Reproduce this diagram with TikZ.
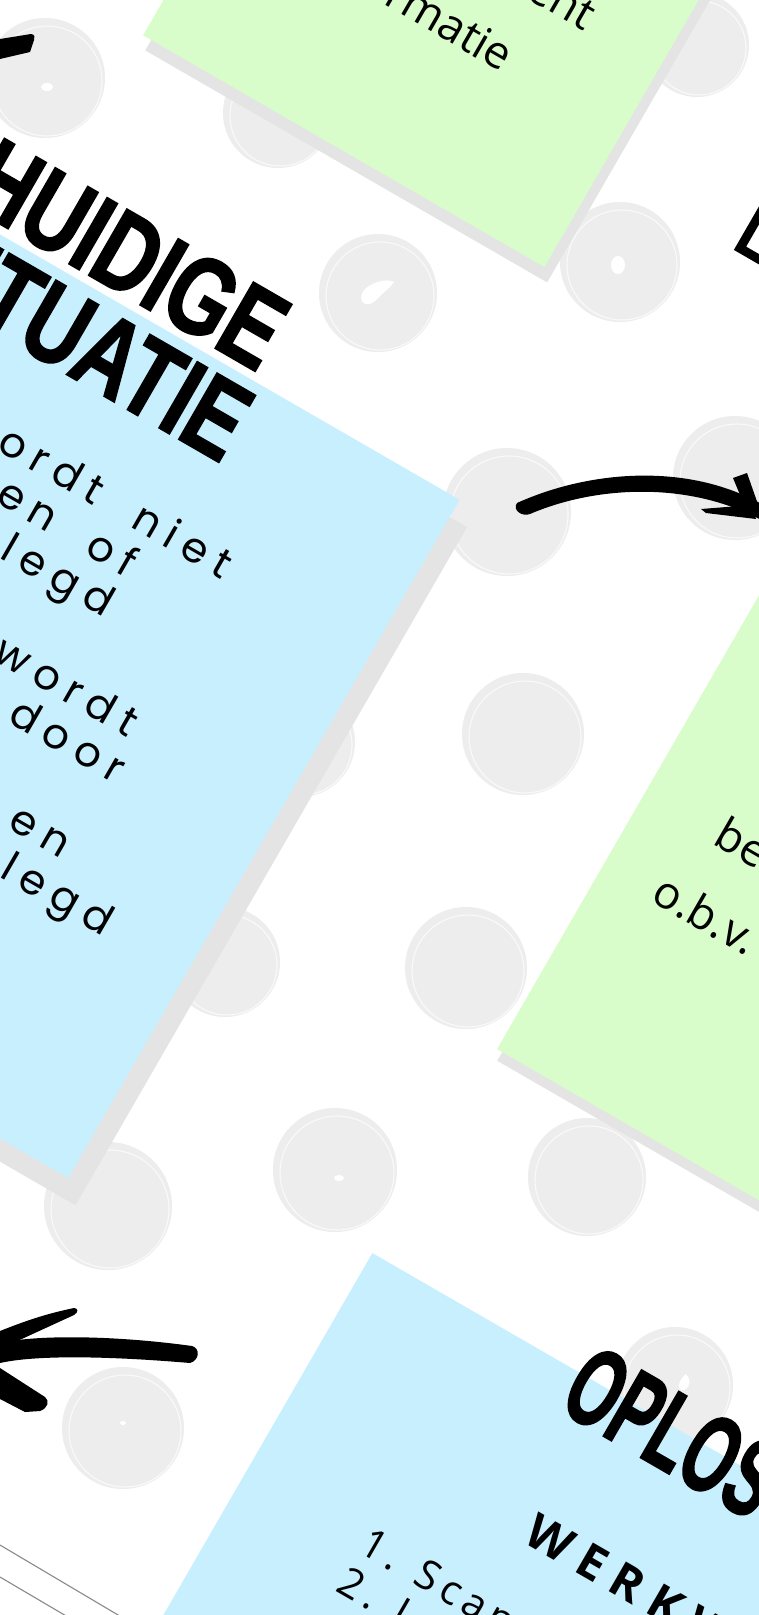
\documentclass[tikz,border=0pt]{standalone}
\usepackage{fontspec}
\newfontfamily\titlefont[FakeStretch=0.74,BoldFeatures={FakeBold=1.5}]{Liberation Sans}
\newfontfamily\oplosfont[FakeStretch=0.58,BoldFeatures={FakeBold=1.5}]{Liberation Sans}
\newfontfamily\bodyfont[LetterSpace=22,WordSpace=2]{Poppins}
\newfontfamily\greenfont{Open Sans}
\newfontfamily\listfont[LetterSpace=15]{Open Sans}
\newfontfamily\subfont[LetterSpace=25]{Open Sans}
\definecolor{noteblue}{HTML}{C8EFFE}
\definecolor{notegreen}{HTML}{D8FDCA}
\definecolor{shadowgray}{HTML}{E4E4E4}
\definecolor{blobgray}{HTML}{EDEDED}
\definecolor{linegray}{HTML}{8A8A8A}
\tikzset{
  blob/.style={fill=blobgray},
  blobring/.style={draw=white,line width=1.1pt,opacity=0.7},
  blobdot/.style={fill=white},
  titletext/.style={rotate=-30,inner sep=0pt,font=\titlefont\bfseries\fontsize{111}{111}\selectfont},
  oplostext/.style={rotate=-30,inner sep=0pt,font=\oplosfont\bfseries\fontsize{111}{111}\selectfont},
  bluetext/.style={rotate=-30,inner sep=0pt,font=\bodyfont\fontsize{42}{42}\selectfont},
  greentext/.style={rotate=-30,inner sep=0pt,font=\greenfont\fontsize{45}{45}\selectfont},
  listtext/.style={rotate=-30,inner sep=0pt,font=\listfont\fontsize{41}{41}\selectfont},
  subtext/.style={rotate=-30,inner sep=0pt,font=\subfont\bfseries\fontsize{48}{48}\selectfont},
  brush/.style={fill=black},
}
\begin{document}
\begin{tikzpicture}[x=1pt,y=-1pt]
\useasboundingbox (0,0) rectangle (759,1615);
\clip (0,0) rectangle (759,1615);
\fill[white] (0,0) rectangle (759,1615);
% background blobs
\foreach \bx/\by/\br in {45/78/60, 278/113/55, 697/45/52, 378/293/59, 620/262/60,
  507/512/64, 735/478/62, 523/734/61, 300/742/55, 466/968/61, 225/962/55,
  108/1206/64, 335/1170/62, 587/1177/59, 123/1428/61, 675/1385/58}{
  \fill[blob] (\bx,\by) circle[radius=\br];
  \draw[blobring] (\bx+2,\by+3) circle[radius=\br-5];
}
\fill[blobdot] (47,87) ellipse[x radius=6,y radius=4];
\fill[blobdot] (378,298) .. controls (366,312) and (356,300) .. (364,290) .. controls (372,282) and (386,278) .. (394,282) .. controls (390,288) and (386,290) .. (378,298) -- cycle;
\fill[blobdot] (618,265) ellipse[x radius=7,y radius=9];
\fill[blobdot] (339,1178) ellipse[x radius=5,y radius=3];
\fill[blobdot] (123,1423) ellipse[x radius=3,y radius=2];
\fill[blobdot] (684,1390) .. controls (676,1392) and (678,1380) .. (686,1374) .. controls (690,1378) and (692,1386) .. (684,1390) -- cycle;

% notes, in the rotated frame
\begin{scope}[rotate=-30]
  % top green note
  \fill[shadowgray] (151,-590) rectangle (615,-29);
  \fill[notegreen] (141.6,-600) rectangle (605,-41);
  \node[greentext,anchor=base east] (g1a) at (522,-265) {ent};
  \node[greentext,anchor=base east] (g1b) at (471,-188) {rmatie};
  % outlined box top right
  \draw[line width=9pt] (765,-155) rectangle (1200,-600);
  % blue note
  \fill[shadowgray] (-180,223) rectangle (668,1006);
  \fill[noteblue] (-200,203) rectangle (648,986);
  \node[titletext,anchor=base east] (t1) at (410,194) {HUIDIGE};
  \node[titletext,anchor=base east] (t2) at (424,291) {SITUATIE};
  \node[bluetext,anchor=base east] (b1) at (482,391.5) {ordt niet};
  \node[bluetext,anchor=base east] (b2) at (399,437.5) {en of};
  \node[bluetext,anchor=base east] (b3) at (399,483.5) {legd};
  \node[bluetext,anchor=base east] (b5) at (480,575.5) {wordt};
  \node[bluetext,anchor=base east] (b6) at (492,621.5) {door};
  \node[bluetext,anchor=base east] (b8) at (482,713.5) {en};
  \node[bluetext,anchor=base east] (b9) at (558,759.5) {legd};
  % right green note
  \fill[shadowgray] (961,-200) rectangle (1800,670);
  \fill[notegreen] (955,-200) rectangle (1800,660);
  \node[greentext,anchor=base west] (g2a) at (1038,375) {be};
  \node[greentext,anchor=base west] (g2b) at (1013,455) {o.b.v.};
  % bottom blue note
  \fill[noteblue] (949,899) rectangle (1800,1800);
  \node[oplostext,anchor=base west] (t3) at (1186,942) {OPLOS};
  \node[subtext,anchor=base west] (s1) at (1222,1074) {WERKW};
  \node[listtext,anchor=base west] (l1) at (1085,1165) {1. Scan};
  \node[listtext,anchor=base west] (l2) at (1085,1210) {2. L};
\end{scope}

% middle arrow
\fill[brush] (517,503) .. controls (590,470) and (690,462) .. (765,506) -- (765,522)
  .. controls (690,480) and (595,486) .. (530,514) .. controls (522,517) and (512,510) .. (517,503) -- cycle;
\fill[brush] (733,478) -- (747,473) -- (760,510) -- (748,514) -- cycle;
\fill[brush] (701,509) -- (752,505) -- (756,519) -- (706,513) -- cycle;
% top-left arrow fragment
\fill[brush] (0,39) -- (31,34) .. controls (35,34) and (35,38) .. (34,40) -- (30,52) -- (0,59) -- cycle;
% bottom-left arrow
\fill[brush] (0,1343) .. controls (40,1334) and (120,1336) .. (192,1346)
  .. controls (200,1348) and (200,1360) .. (190,1363)
  .. controls (120,1357) and (40,1354) .. (0,1363) -- cycle;
\fill[brush] (74,1308) .. controls (78,1308) and (79,1312) .. (74,1315) -- (0,1349) -- (0,1331) .. controls (30,1319) and (50,1313) .. (74,1308) -- cycle;
\fill[brush] (0,1368) -- (45,1397) .. controls (50,1401) and (48,1408) .. (40,1411) -- (25,1412) -- (0,1399) -- cycle;
% gray double lines
\draw[linegray,line width=1.1pt] (0,1545) -- (140,1628);
\draw[linegray,line width=1.1pt] (0,1577) -- (90,1630);
\end{tikzpicture}
\end{document}
